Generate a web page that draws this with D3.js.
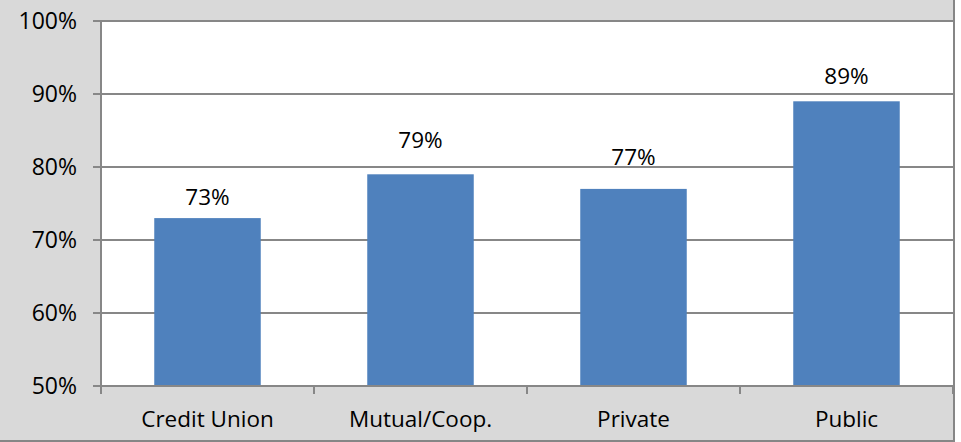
<!DOCTYPE html>
<html>
<head>
<meta charset="utf-8">
<script src="https://cdn.jsdelivr.net/npm/d3@7"></script>
<style>
  body { margin: 0; background: #fff; }
  text { font-family: "Open Sans", sans-serif; fill: #000; }
</style>
</head>
<body>
<script>
'use strict';

// chart data
const categories = ['Credit Union', 'Mutual/Coop.', 'Private', 'Public'];
const values = [73, 79, 77, 89];
const yTicks = [50, 60, 70, 80, 90, 100];

(function() {
  const width = 961, height = 442;
  const plot = { left: 101, right: 953, top: 21, bottom: 386 };
  // how far each value label sits above its bar (as placed in the original)
  const labelLift = [21, 34, 32, 25];

  const svg = d3.select('body').append('svg')
    .attr('width', width)
    .attr('height', height);

  // gray chart background
  svg.append('rect')
    .attr('x', 0).attr('y', 0)
    .attr('width', 954).attr('height', 441)
    .attr('fill', '#d9d9d9');

  // right and bottom border of the chart
  svg.append('line')
    .attr('x1', 954).attr('x2', 954)
    .attr('y1', 0).attr('y2', 441)
    .attr('stroke', '#868686').attr('stroke-width', 2);
  svg.append('line')
    .attr('x1', 0).attr('x2', 955)
    .attr('y1', 441).attr('y2', 441)
    .attr('stroke', '#868686').attr('stroke-width', 2);

  // white plot area
  svg.append('rect')
    .attr('x', plot.left).attr('y', plot.top)
    .attr('width', plot.right - plot.left)
    .attr('height', plot.bottom - plot.top)
    .attr('fill', '#fff');

  const x = d3.scaleBand()
    .domain(categories)
    .range([plot.left, plot.right])
    .paddingInner(0.5)
    .paddingOuter(0.25);

  const y = d3.scaleLinear()
    .domain([50, 100])
    .range([plot.bottom, plot.top]);

  // gridlines
  svg.append('g')
    .selectAll('line')
    .data(yTicks)
    .enter()
    .append('line')
      .attr('x1', plot.left - 8)
      .attr('x2', plot.right)
      .attr('y1', (d) => y(d))
      .attr('y2', (d) => y(d))
      .attr('stroke', '#878787')
      .attr('stroke-width', 2);

  // y tick labels
  svg.append('g')
    .selectAll('text')
    .data(yTicks)
    .enter()
    .append('text')
      .attr('x', 77)
      .attr('y', (d) => y(d))
      .attr('dy', '0.35em')
      .attr('text-anchor', 'end')
      .style('font-size', '23px')
      .text((d) => d + '%');

  // bars
  svg.append('g')
    .selectAll('rect')
    .data(values)
    .enter()
    .append('rect')
      .attr('x', (d, i) => x(categories[i]))
      .attr('y', (d) => y(d))
      .attr('width', x.bandwidth())
      .attr('height', (d) => plot.bottom - y(d))
      .attr('fill', '#4f81bd');

  // value labels
  svg.append('g')
    .selectAll('text')
    .data(values)
    .enter()
    .append('text')
      .attr('x', (d, i) => x(categories[i]) + x.bandwidth() / 2)
      .attr('y', (d, i) => y(d) - labelLift[i])
      .attr('dy', '0.35em')
      .attr('text-anchor', 'middle')
      .style('font-size', '22.5px')
      .text((d) => d + '%');

  // axis lines
  svg.append('line')
    .attr('x1', plot.left).attr('x2', plot.left)
    .attr('y1', plot.top).attr('y2', plot.bottom)
    .attr('stroke', '#878787').attr('stroke-width', 2);
  svg.append('line')
    .attr('x1', plot.left - 8).attr('x2', plot.right)
    .attr('y1', plot.bottom).attr('y2', plot.bottom)
    .attr('stroke', '#878787').attr('stroke-width', 2);

  // x tick marks at category boundaries
  const step = x.step();
  const bounds = d3.range(categories.length + 1).map((i) => plot.left + i * step);
  svg.append('g')
    .selectAll('line')
    .data(bounds)
    .enter()
    .append('line')
      .attr('x1', (d) => d).attr('x2', (d) => d)
      .attr('y1', plot.bottom).attr('y2', plot.bottom + 8)
      .attr('stroke', '#878787').attr('stroke-width', 2);

  // category labels
  svg.append('g')
    .selectAll('text')
    .data(categories)
    .enter()
    .append('text')
      .attr('x', (d) => x(d) + x.bandwidth() / 2)
      .attr('y', 419)
      .attr('dy', '0.35em')
      .attr('text-anchor', 'middle')
      .style('font-size', '22.5px')
      .text((d) => d);
})();
</script>
</body>
</html>
